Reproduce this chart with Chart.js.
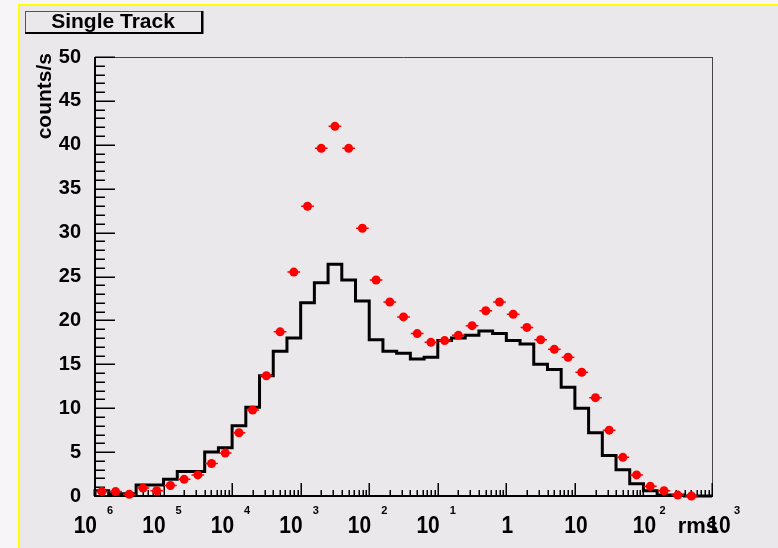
<!DOCTYPE html>
<html>
<head>
<meta charset="utf-8">
<script src="https://cdn.jsdelivr.net/npm/chart.js@4.4.1/dist/chart.umd.min.js"></script>
<style>
html, body { margin: 0; padding: 0; background: #fff; }
</style>
</head>
<body>
<canvas id="c" width="778" height="548"></canvas>
<script>
// binning: log10(rms) from 1e-6 to 1e3, 5 bins per decade
const logMin = -6;
const logMax = 3;
const binsPerDecade = 5;

// black histogram (counts/s per bin)
const histCounts = [
    0.6, 0.25, 0.25, 1.25, 1.25, 1.9, 2.8, 2.8, 5.0, 5.5,
    8.0, 10.1, 13.7, 16.5, 18.0, 22.0, 24.3, 26.4, 24.6, 22.2,
    17.8, 16.5, 16.25, 15.6, 15.8, 17.7, 18.0, 18.3, 18.8, 18.5,
    17.7, 17.3, 15.0, 14.4, 12.4, 10.0, 7.2, 4.6, 3.0, 1.4,
    0.6, 0.1, 0.1, 0.0, 0.0
];

// red points (counts/s per bin), null = no point
const pointCounts = [
    0.5, 0.5, 0.2, 0.9, 0.6, 1.2, 1.9, 2.4, 3.7, 4.9,
    7.2, 9.8, 13.7, 18.7, 25.5, 33.0, 39.6, 42.1, 39.6, 30.5,
    24.6, 22.1, 20.4, 18.5, 17.5, 17.7, 18.3, 19.4, 21.1, 22.1,
    20.7, 19.2, 17.8, 16.7, 15.8, 14.1, 11.2, 7.5, 4.4, 2.4,
    1.1, 0.6, 0.1, 0.0, null
];

// x tick labels as printed (one per decade)
const xTickExp = [-6, -5, -4, -3, -2, -1, 0, 1, 2, 3];
const xTickBase = ['10', '10', '10', '10', '10', '10', '1', '10', '10', '10'];
const xTickSup = ['6', '5', '4', '3', '2', '1', '', '', '2', '3'];

const titleText = 'Single Track';
const yTitle = 'counts/s';
const xTitle = 'rms';

const FONT = '"Liberation Sans", Arial, Helvetica, sans-serif';
const BG = '#ebe8eb';

const binStep = 1 / binsPerDecade;
const edgeExp = i => logMin + i * binStep;

// histogram outline as stepped line through bin edges
const histData = [{ x: Math.pow(10, logMin), y: 0 }];
histCounts.forEach((v, i) => histData.push({ x: Math.pow(10, edgeExp(i)), y: v }));
histData.push({ x: Math.pow(10, logMax), y: 0 });

const pointData = [];
pointCounts.forEach((v, i) => {
    if (v === null) return;
    pointData.push({ x: Math.pow(10, edgeExp(i) + binStep / 2), y: v, lo: Math.pow(10, edgeExp(i)), hi: Math.pow(10, edgeExp(i + 1)) });
});

// draws text a bit taller than wide, like the original bitmap font
function tallText(ctx, txt, x, y, stretch) {
    ctx.save();
    ctx.translate(x, y);
    ctx.scale(1, stretch);
    ctx.fillText(txt, 0, 0);
    ctx.restore();
}

const rootStyle = {
    id: 'rootStyle',
    beforeDraw(chart) {
        const ctx = chart.ctx;
        ctx.save();
        ctx.fillStyle = '#f7f5f7';
        ctx.fillRect(0, 0, chart.width, chart.height);
        ctx.fillStyle = BG;
        ctx.fillRect(20, 6, chart.width - 20, chart.height - 6);
        ctx.fillStyle = '#ffff00';
        ctx.fillRect(18, 4, chart.width - 18, 2);
        ctx.fillRect(18, 4, 2, chart.height - 4);

        // title box
        ctx.strokeStyle = '#555';
        ctx.lineWidth = 1;
        ctx.strokeRect(25.5, 11.5, 176, 21);
        ctx.fillStyle = '#000';
        ctx.fillRect(201, 11, 2.5, 23);
        ctx.fillRect(25, 32, 178, 2);
        ctx.font = 'bold 21px ' + FONT;
        ctx.textAlign = 'center';
        ctx.textBaseline = 'alphabetic';
        ctx.fillText(titleText, 113, 27.5);
        ctx.restore();
    },
    beforeDatasetsDraw(chart) {
        const ctx = chart.ctx;
        const xs = chart.scales.x, ys = chart.scales.y;
        const L = xs.left, R = xs.right, T = ys.top, B = ys.bottom;
        ctx.save();

        // frame
        ctx.strokeStyle = '#444';
        ctx.lineWidth = 1;
        ctx.beginPath();
        ctx.moveTo(L, T + 0.5); ctx.lineTo(R, T + 0.5);
        ctx.moveTo(R + 0.5, T); ctx.lineTo(R + 0.5, B);
        ctx.stroke();
        ctx.strokeStyle = '#000';
        ctx.lineWidth = 2;
        ctx.beginPath();
        ctx.moveTo(L, T); ctx.lineTo(L, B + 1);
        ctx.moveTo(L, B); ctx.lineTo(R + 1, B);
        ctx.stroke();

        // y ticks, drawn inside the frame
        ctx.lineWidth = 1.5;
        ctx.beginPath();
        for (let v = 0; v <= 50; v += 1) {
            const y = Math.round(ys.getPixelForValue(v)) + 0.25;
            const len = v % 5 === 0 ? 20 : 10;
            ctx.moveTo(L, y); ctx.lineTo(L + len, y);
        }
        ctx.stroke();

        // x ticks (log), drawn inside
        ctx.beginPath();
        for (let e = logMin; e < logMax; e++) {
            for (let m = 1; m <= 9; m++) {
                const x = Math.round(xs.getPixelForValue(m * Math.pow(10, e))) + 0.25;
                const len = m === 1 ? 13 : 6;
                ctx.moveTo(x, B); ctx.lineTo(x, B - len);
            }
        }
        const xe = Math.round(xs.getPixelForValue(Math.pow(10, logMax))) + 0.25;
        ctx.moveTo(xe, B); ctx.lineTo(xe, B - 13);
        ctx.stroke();

        // x labels: base + small exponent
        ctx.fillStyle = '#000';
        ctx.textBaseline = 'alphabetic';
        xTickExp.forEach((e, i) => {
            const px = xs.getPixelForValue(Math.pow(10, e));
            const base = xTickBase[i], sup = xTickSup[i];
            let supX;
            ctx.font = 'bold 21px ' + FONT;
            if (e < 0) {
                ctx.textAlign = 'right';
                tallText(ctx, base, px + 2, 533, 1.12);
                supX = px + 12;
            } else {
                const cx = px + (e === 3 ? 7 : 1);
                ctx.textAlign = 'center';
                tallText(ctx, base, cx, 533, 1.12);
                supX = cx + 15;
            }
            if (sup) {
                ctx.font = 'bold 11px ' + FONT;
                ctx.textAlign = 'left';
                ctx.fillText(sup, supX, 514);
            }
        });

        // axis titles
        ctx.font = 'bold 22px ' + FONT;
        ctx.textAlign = 'right';
        ctx.fillText(xTitle, 718, 533);

        ctx.save();
        ctx.translate(45, 53);
        ctx.rotate(-Math.PI / 2);
        ctx.font = 'bold 21px ' + FONT;
        ctx.textAlign = 'right';
        ctx.textBaseline = 'middle';
        ctx.fillText(yTitle, 0, 0);
        ctx.restore();

        ctx.restore();
    },
    beforeDatasetDraw(chart, args) {
        if (chart.data.datasets[args.index].label !== 'points') return;
        const ctx = chart.ctx;
        const xs = chart.scales.x, ys = chart.scales.y;
        ctx.save();
        ctx.strokeStyle = '#ff0000';
        ctx.lineWidth = 1.5;
        ctx.beginPath();
        pointData.forEach(p => {
            const y = ys.getPixelForValue(p.y);
            ctx.moveTo(xs.getPixelForValue(p.lo) + 0.5, y);
            ctx.lineTo(xs.getPixelForValue(p.hi) - 0.5, y);
        });
        ctx.stroke();
        ctx.restore();
    }
};

new Chart(document.getElementById('c'), {
    type: 'scatter',
    data: {
        datasets: [
            {
                label: 'hist',
                type: 'line',
                data: histData,
                stepped: 'before',
                borderColor: '#000',
                borderWidth: 3,
                pointRadius: 0,
                fill: false,
                tension: 0,
                clip: false,
                order: 2
            },
            {
                label: 'points',
                data: pointData,
                pointRadius: 4.5,
                pointBackgroundColor: '#ff0000',
                pointBorderWidth: 0,
                clip: false,
                order: 1
            }
        ]
    },
    options: {
        responsive: false,
        animation: false,
        events: [],
        layout: { padding: { top: 57, right: 66, bottom: 52, left: 0 } },
        plugins: {
            legend: { display: false },
            tooltip: { enabled: false },
            title: { display: false }
        },
        scales: {
            x: {
                type: 'logarithmic',
                min: Math.pow(10, logMin),
                max: Math.pow(10, logMax),
                grid: { display: false },
                border: { display: false },
                ticks: { display: false },
                afterFit: s => { s.height = 0; }
            },
            y: {
                min: 0,
                max: 50,
                grid: { display: false },
                border: { display: false },
                ticks: {
                    stepSize: 5,
                    padding: 6,
                    color: '#000',
                    font: { family: FONT, size: 20, weight: 'bold' }
                },
                afterFit: s => { s.width = 95; }
            }
        }
    },
    plugins: [rootStyle]
});
</script>
</body>
</html>
